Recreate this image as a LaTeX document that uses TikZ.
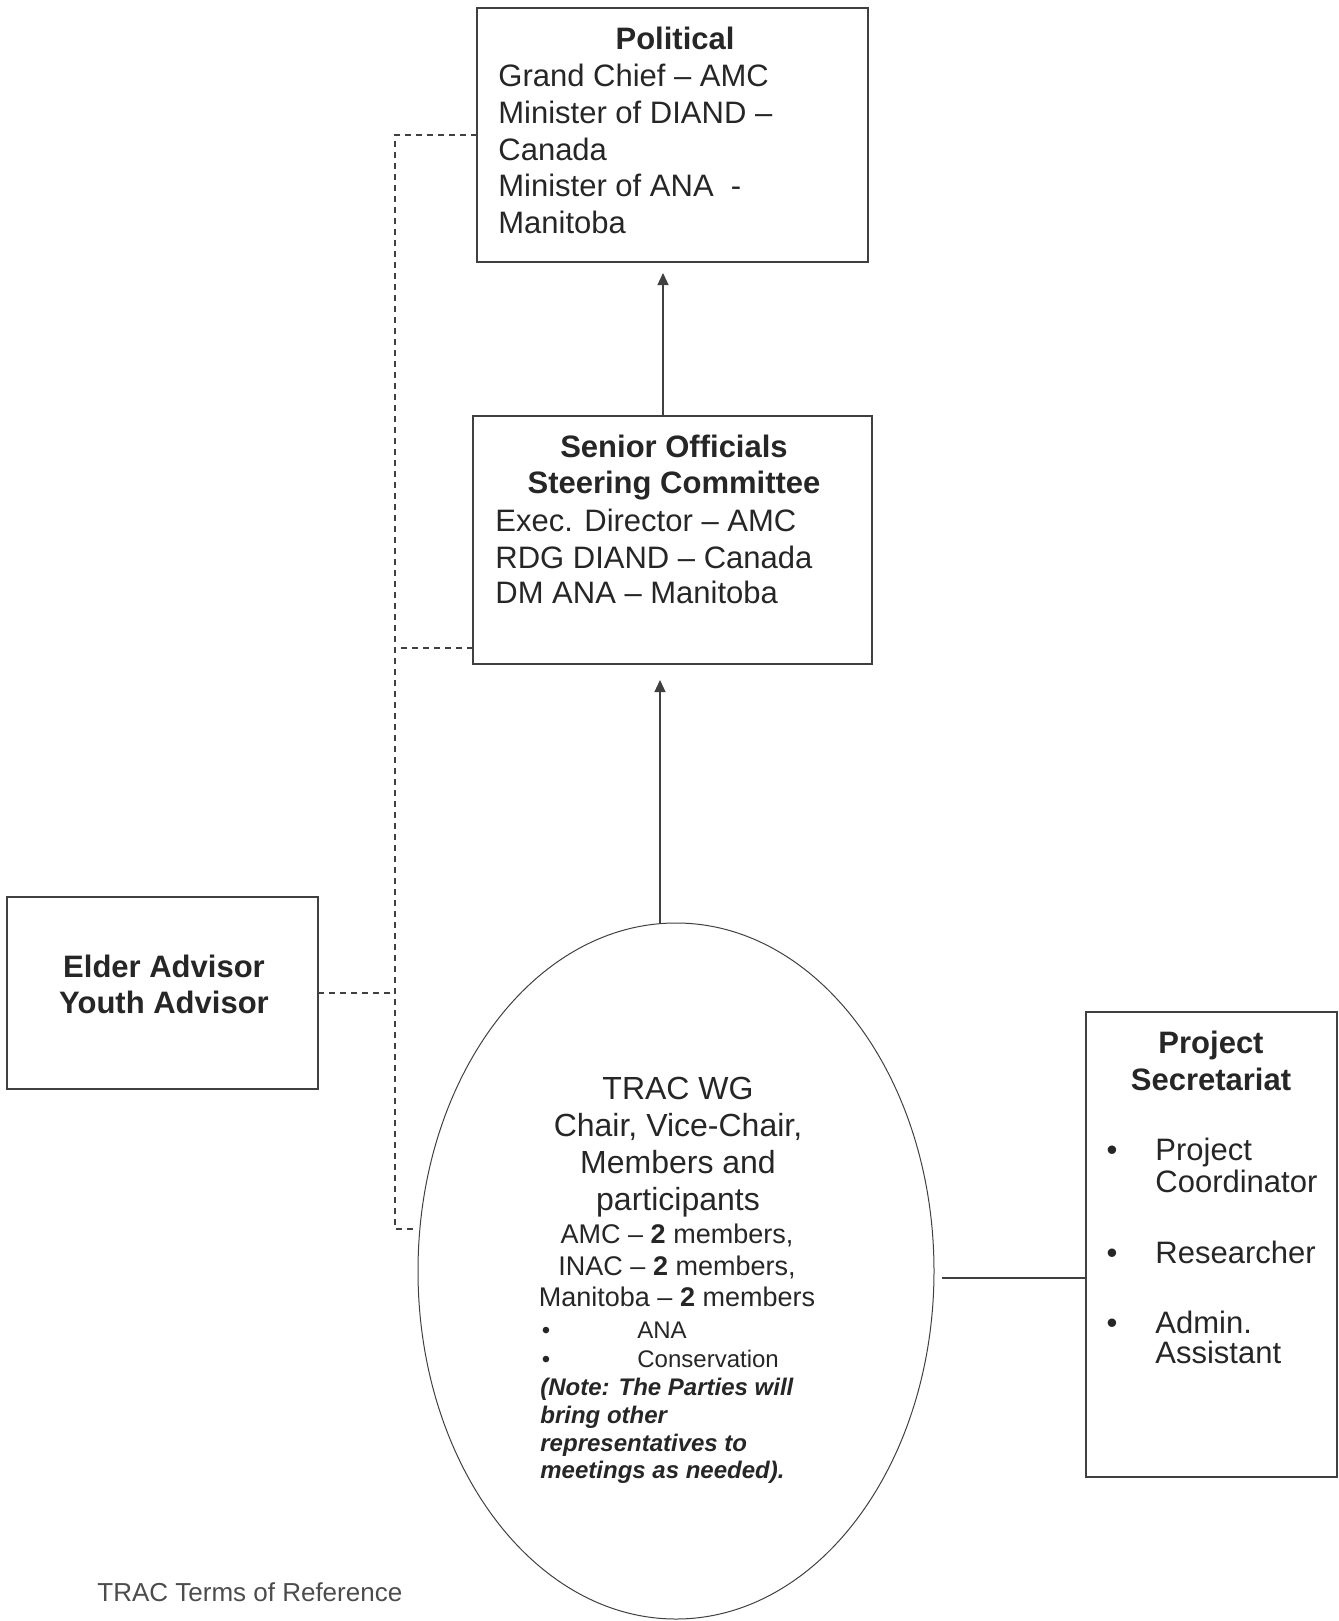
\documentclass[tikz,border=0pt]{standalone}
\usepackage{fontspec}
\setmainfont{Liberation Sans}
\usetikzlibrary{shapes.geometric,arrows.meta,calc}

\begin{document}
\begin{tikzpicture}[x=0.5pt,y=-0.5pt,>={Triangle[length=6pt,width=5.5pt]},
  txt/.style={inner sep=0pt,text=black!85},
  big/.style={txt,font=\fontsize{15.5}{18}\selectfont},
  wide/.style={txt,font=\fontsize{16}{18}\selectfont},
  head/.style={txt,font=\fontsize{15.5}{18}\selectfont\bfseries},
  mid/.style={txt,font=\fontsize{13.5}{16}\selectfont},
  small/.style={txt,font=\fontsize{12}{14}\selectfont},
  note/.style={txt,font=\fontsize{12}{14}\selectfont\bfseries\itshape},
  box/.style={draw=black!75,line width=0.7pt,inner sep=0pt,outer sep=0pt},
  link/.style={draw=black!75,line width=0.6pt},
  dashlink/.style={link,dash pattern=on 3pt off 2.5pt}]
  \useasboundingbox (0,0) rectangle (1338,1621);

  % boxes
  \node[box,minimum width=195.5pt,minimum height=127pt] (political) at (672.5,135) {};
  \node[box,minimum width=199.5pt,minimum height=124pt] (senior) at (672.5,540) {};
  \node[box,minimum width=155.5pt,minimum height=96pt] (elder) at (162.5,993) {};
  \node[box,minimum width=125.5pt,minimum height=232.5pt] (secretariat) at (1211.5,1244.5) {};
  \node[box,ellipse,line width=0.5pt,minimum width=258pt,minimum height=348pt] (trac) at (676,1271) {};

  % political
  \node[head,anchor=base] (pol0) at (675,50) {Political};
  \node[big,anchor=base west] (pol1) at (498,87) {Grand Chief – AMC};
  \node[big,anchor=base west] (pol2) at (498,124) {Minister of DIAND –};
  \node[big,anchor=base west] (pol3) at (498,161) {Canada};
  \node[big,anchor=base west] (pol4) at (498,197) {Minister of ANA\ \ -};
  \node[big,anchor=base west] (pol5) at (498,234) {Manitoba};

  % senior officials
  \node[head,anchor=base] (sen0) at (674,457) {Senior Officials};
  \node[head,anchor=base] (sen1) at (674,493) {Steering Committee};
  \node[big,anchor=base west] (sen2) at (495,531) {Exec. Director – AMC};
  \node[big,anchor=base west] (sen3) at (495,568) {RDG DIAND – Canada};
  \node[big,anchor=base west] (sen4) at (495,603) {DM ANA – Manitoba};

  % advisors
  \node[head,anchor=base] (eld0) at (164,977) {Elder Advisor};
  \node[head,anchor=base] (eld1) at (164,1013) {Youth Advisor};

  % working group
  \node[wide,anchor=base] (wg0) at (678,1099) {TRAC WG};
  \node[wide,anchor=base] (wg1) at (678,1136) {Chair, Vice-Chair,};
  \node[wide,anchor=base] (wg2) at (678,1173) {Members and};
  \node[wide,anchor=base] (wg3) at (678,1210) {participants};
  \node[mid,anchor=base] (wg4) at (677,1243) {AMC – \textbf{2} members,};
  \node[mid,anchor=base] (wg5) at (677,1275) {INAC – \textbf{2} members,};
  \node[mid,anchor=base] (wg6) at (677,1306) {Manitoba – \textbf{2} members};
  \node[small,anchor=base] (wgb1) at (546,1338) {\textbullet};
  \node[small,anchor=base west] (wg7) at (637,1338) {ANA};
  \node[small,anchor=base] (wgb2) at (546,1367) {\textbullet};
  \node[small,anchor=base west] (wg8) at (637,1367) {Conservation};
  \node[note,anchor=base west] (wg9) at (540,1395) {(Note: The Parties will};
  \node[note,anchor=base west] (wg10) at (540,1423) {bring other};
  \node[note,anchor=base west] (wg11) at (540,1451) {representatives to};
  \node[note,anchor=base west] (wg12) at (540,1478) {meetings as needed).};

  % secretariat
  \node[head,anchor=base] (sec0) at (1211,1053) {Project};
  \node[head,anchor=base] (sec1) at (1211,1090) {Secretariat};
  \node[big,anchor=base] (secb1) at (1112,1160) {\textbullet};
  \node[big,anchor=base west] (sec2) at (1155,1160) {Project};
  \node[big,anchor=base west] (sec3) at (1155,1192) {Coordinator};
  \node[big,anchor=base] (secb2) at (1112,1263) {\textbullet};
  \node[big,anchor=base west] (sec4) at (1155,1263) {Researcher};
  \node[big,anchor=base] (secb3) at (1112,1333) {\textbullet};
  \node[big,anchor=base west] (sec5) at (1155,1333) {Admin.};
  \node[big,anchor=base west] (sec6) at (1155,1363) {Assistant};

  \node[txt,font=\fontsize{13}{15}\selectfont,text=black!70,anchor=base west] (foot) at (97,1601) {TRAC Terms of Reference};

  % connectors
  \coordinate (up1) at ([xshift=-4.75pt]senior.north);
  \coordinate (up2) at ([xshift=-8pt]trac.north);
  \coordinate (bus) at (395,1229);
  \coordinate (busend) at (413,1229);
  \coordinate (side) at (942,1278);
  \draw[link,->,shorten >=5.5pt] (up1) -- (up1 |- political.south);
  \draw[link,->,shorten >=8pt] (up2) -- (up2 |- senior.south);
  \draw[link] (side) -- (side -| secretariat.west);
  \draw[dashlink] (political.west) -- (political.west -| bus) -- (bus) -- (busend);
  \draw[dashlink] ([yshift=8pt]senior.south west) -- ([yshift=8pt]senior.south west -| bus);
  \draw[dashlink] (elder.east) -- (elder.east -| bus);
\end{tikzpicture}
\end{document}
